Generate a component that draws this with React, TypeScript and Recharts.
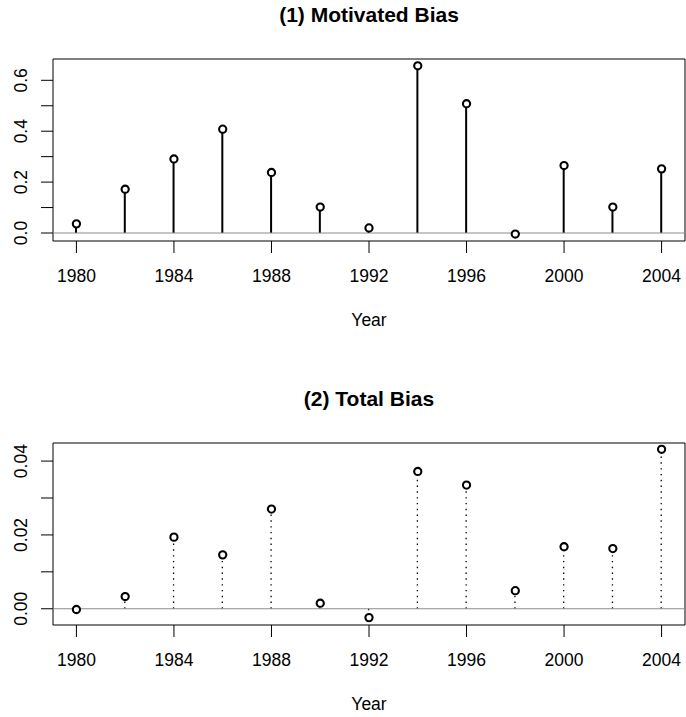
import React from 'react';
import {
  ComposedChart,
  Bar,
  Line,
  XAxis,
  YAxis,
  ReferenceLine,
  ReferenceArea,
} from 'recharts';

const FONT = '"Liberation Sans", Arial, Helvetica, sans-serif';

const years = [1980, 1982, 1984, 1986, 1988, 1990, 1992, 1994, 1996, 1998, 2000, 2002, 2004];
const motivatedBias = [0.036, 0.172, 0.291, 0.408, 0.238, 0.102, 0.02, 0.657, 0.508, -0.004, 0.265, 0.102, 0.252];
const totalBias = [-0.0002, 0.0033, 0.0194, 0.0146, 0.027, 0.0015, -0.0024, 0.0372, 0.0335, 0.0049, 0.0168, 0.0163, 0.0432];

const yearTicks = [1980, 1984, 1988, 1992, 1996, 2000, 2004];
const motivatedTicks = [0, 0.1, 0.2, 0.3, 0.4, 0.5, 0.6];
const motivatedLabels = ['0.0', '', '0.2', '', '0.4', '', '0.6'];
const totalTicks = [0, 0.01, 0.02, 0.03, 0.04];
const totalLabels = ['0.00', '', '0.02', '', '0.04'];

const X_DOMAIN: [number, number] = [1979.04, 2004.96];
const WIDTH = 686;

interface PanelProps {
  title: string;
  values: number[];
  yTicks: number[];
  yLabels: string[];
  yDomain: [number, number];
  dotted?: boolean;
  top: number;
  height: number;
  plotTop: number;
  axisHeight: number;
}

function Panel({ title, values, yTicks, yLabels, yDomain, dotted, top, height, plotTop, axisHeight }: PanelProps) {
  const data = years.map((year, i) => ({ year, value: values[i] }));

  // type="h" style stems: solid in the first panel, dotted in the second
  const stem = (props: any) => {
    const { x, y, width, height: h } = props;
    const cx = x + width / 2;
    return (
      <line
        x1={cx}
        x2={cx}
        y1={y + h}
        y2={y}
        stroke="#000"
        strokeWidth={dotted ? 1.3 : 2}
        strokeDasharray={dotted ? '1.4 4.4' : undefined}
      />
    );
  };

  const yTick = (props: any) => {
    const { x, y, payload } = props;
    const idx = yTicks.findIndex((t) => Math.abs(t - payload.value) < 1e-9);
    const label = idx >= 0 ? yLabels[idx] : '';
    if (!label) return <g />;
    const tx = x - 14.3;
    return (
      <text
        x={tx}
        y={y}
        transform={`rotate(-90 ${tx} ${y})`}
        textAnchor="middle"
        fontSize={17.5}
        fontFamily={FONT}
        fill="#000"
      >
        {label}
      </text>
    );
  };

  const xTick = (props: any) => {
    const { x, y, payload } = props;
    return (
      <text x={x} y={y + 28.7} textAnchor="middle" fontSize={17.5} fontFamily={FONT} fill="#000">
        {payload.value}
      </text>
    );
  };

  return (
    <div style={{ position: 'absolute', left: 0, top, width: WIDTH, height }}>
      <ComposedChart
        width={WIDTH}
        height={height}
        data={data}
        margin={{ top: plotTop, right: 1, left: 0, bottom: 0 }}
      >
        <XAxis
          dataKey="year"
          type="number"
          domain={X_DOMAIN}
          ticks={yearTicks}
          allowDataOverflow
          height={axisHeight}
          tickSize={12}
          tickMargin={0}
          axisLine={false}
          tickLine={{ stroke: '#000' }}
          tick={xTick}
          label={{
            content: (p: any) => {
              const vb = p.viewBox;
              return (
                <text
                  x={vb.x + vb.width / 2}
                  y={vb.y + 85}
                  textAnchor="middle"
                  fontSize={17.5}
                  fontFamily={FONT}
                  fill="#000"
                >
                  Year
                </text>
              );
            },
          }}
        />
        <YAxis
          type="number"
          domain={yDomain}
          ticks={yTicks}
          allowDataOverflow
          width={53}
          tickSize={12}
          tickMargin={0}
          axisLine={false}
          tickLine={{ stroke: '#000' }}
          tick={yTick}
        />
        <ReferenceLine y={0} stroke="#8c8c8c" strokeWidth={1} />
        <Bar dataKey="value" barSize={2} shape={stem} isAnimationActive={false} />
        <Line
          dataKey="value"
          stroke="none"
          dot={{ r: 3.6, stroke: '#000', strokeWidth: 2.1, fill: '#fff' }}
          activeDot={false}
          isAnimationActive={false}
        />
        <ReferenceArea
          x1={X_DOMAIN[0]}
          x2={X_DOMAIN[1]}
          y1={yDomain[0]}
          y2={yDomain[1]}
          fill="none"
          stroke="#000"
          strokeWidth={1}
          ifOverflow="visible"
        />
      </ComposedChart>
      <svg
        width={WIDTH}
        height={height}
        style={{ position: 'absolute', left: 0, top: 0, pointerEvents: 'none' }}
      >
        <text
          x={369}
          y={plotTop - 37}
          textAnchor="middle"
          fontSize={21}
          fontWeight="bold"
          fontFamily={FONT}
          fill="#000"
        >
          {title}
        </text>
      </svg>
    </div>
  );
}

export default function App() {
  return (
    <div style={{ position: 'absolute', left: 0, top: 0, width: WIDTH, height: 717, background: '#fff' }}>
      <Panel
        title="(1) Motivated Bias"
        values={motivatedBias}
        yTicks={motivatedTicks}
        yLabels={motivatedLabels}
        yDomain={[-0.0314, 0.6837]}
        top={0}
        height={358}
        plotTop={59}
        axisHeight={117}
      />
      <Panel
        title="(2) Total Bias"
        values={totalBias}
        yTicks={totalTicks}
        yLabels={totalLabels}
        yDomain={[-0.0044, 0.0449]}
        dotted
        top={358}
        height={359}
        plotTop={85}
        axisHeight={92}
      />
    </div>
  );
}
